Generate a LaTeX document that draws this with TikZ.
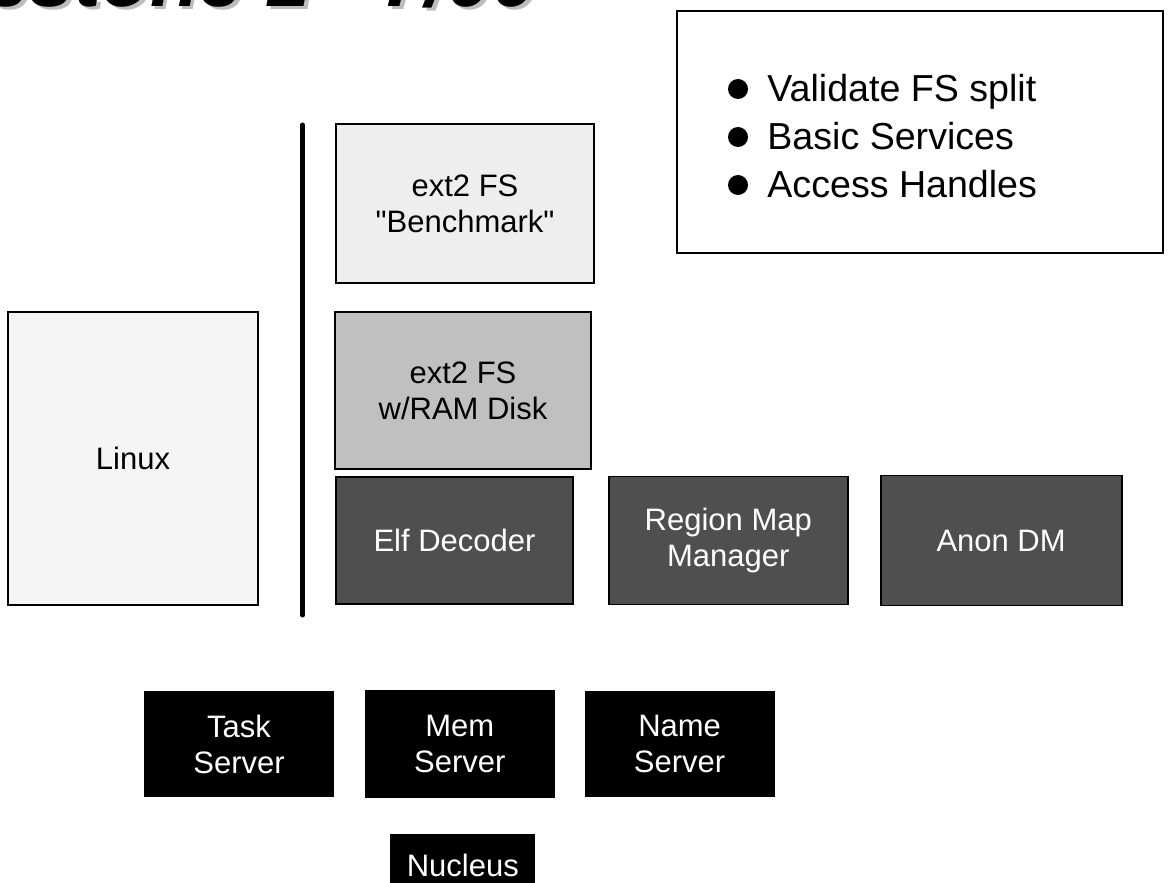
\documentclass[tikz,border=0pt]{standalone}
\usepackage{fontspec}
\setmainfont{Liberation Sans}
\usetikzlibrary{positioning}

\definecolor{linuxGray}{HTML}{F5F5F5}
\definecolor{benchGray}{HTML}{EEEEEE}
\definecolor{ramGray}{HTML}{C0C0C0}
\definecolor{modGray}{HTML}{4F4F4F}
\definecolor{shadowGray}{HTML}{BDBDBD}

\tikzset{
  box/.style={draw, line width=0.9pt, inner sep=0pt, align=center,
    font=\fontsize{15.5}{18}\selectfont},
  fsbox/.style={box, fill=#1},
  modbox/.style={box, fill=modGray, text=white},
  srvbox/.style={box, fill=black, text=white, minimum width=94pt, minimum height=52pt},
  title/.style={anchor=base west, inner sep=0pt,
    font=\fontsize{40}{48}\selectfont\bfseries\itshape},
  item/.style={anchor=base west, inner sep=0pt, font=\fontsize{18.8}{24}\selectfont},
  dot/.style={circle, fill=black, minimum size=10pt, inner sep=0pt}
}

\begin{document}
\begin{tikzpicture}[x=0.5pt, y=-0.5pt]
    \path[use as bounding box, clip] (0,0) rectangle (1170,882);

    \node[title, text=shadowGray] (shadow) at (-122,10) {Milestone 1 - 7/00};
    \node[title] (title) at (-126,7) {Milestone 1 - 7/00};

    \node[draw, line width=1pt, minimum width=243pt, minimum height=121pt] (goals) at (920,132) {};
    \node[dot] (dot1) at (738,89) {};
    \node[item] (goal1) at (767,102) {Validate FS split};
    \node[dot] (dot2) at (738,137) {};
    \node[item] (goal2) at (767,150) {Basic Services};
    \node[dot] (dot3) at (738,185) {};
    \node[item] (goal3) at (767,198) {Access Handles};

    \node[fsbox=linuxGray, minimum width=125pt, minimum height=146.5pt] (linux) at (133,458.5) {Linux};
    \draw[line width=2.5pt, line cap=round] (302.5,125) -- (302.5,615);

    \node[fsbox=benchGray, minimum width=129pt, minimum height=79.5pt] (bench) at (465,203.5) {ext2 FS\\\textquotedbl Benchmark\textquotedbl};
    \node[fsbox=ramGray, minimum width=128pt, minimum height=78.5pt] (ramfs) at (463,390.5) {ext2 FS\\w/RAM Disk};

    \node[modbox, minimum width=118.5pt, minimum height=63.5pt] (elf) at (454.5,540.5) {Elf Decoder};
    \node[modbox, minimum width=119.5pt, minimum height=64pt, right=17pt of elf] (region) {Region Map\\Manager};
    \node[modbox, minimum width=120.5pt, minimum height=65pt, right=15.5pt of region] (anon) {Anon DM};

    \node[srvbox] (task) at (239,744) {Task\\Server};
    \node[srvbox, minimum height=53.5pt, right=15.5pt of task] (mem) {Mem\\Server};
    \node[srvbox, right=15pt of mem] (name) {Name\\Server};
    \node[srvbox, minimum width=71.5pt, minimum height=30pt, below=18pt of mem, xshift=1.5pt] (nucleus) {Nucleus};
\end{tikzpicture}
\end{document}
